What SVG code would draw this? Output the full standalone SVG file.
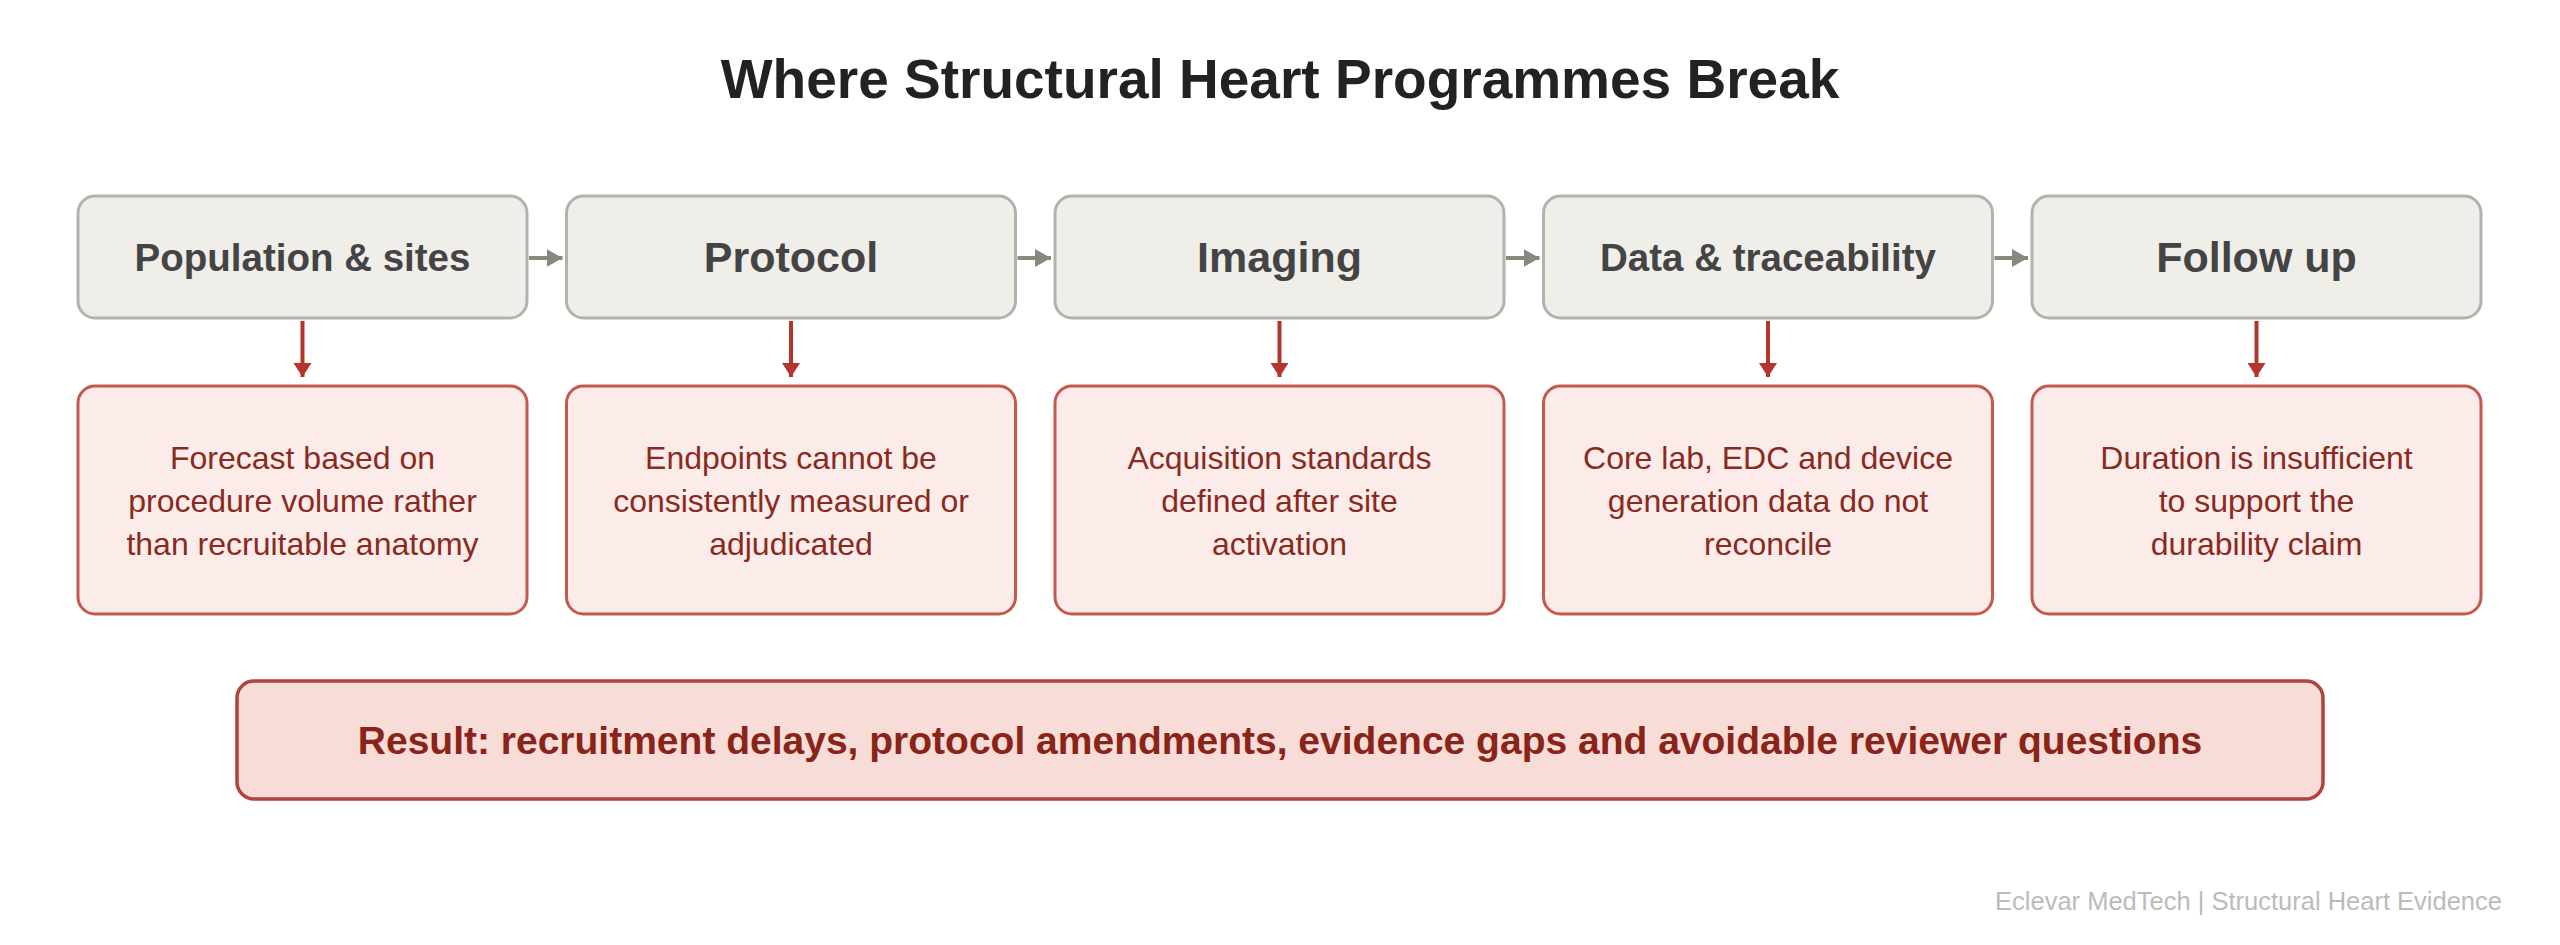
<svg xmlns="http://www.w3.org/2000/svg" width="2560" height="945" viewBox="0 0 2560 945">
  <style>
    .title { font-family: "Liberation Sans", Arial, sans-serif; font-weight: bold; font-size: 55px; fill: #222222; text-anchor: middle; }
    .stage rect { fill: #efeee9; stroke: #b3b3ab; stroke-width: 3; }
    .stage text { font-family: "Liberation Sans", Arial, sans-serif; font-weight: bold; fill: #444444; text-anchor: middle; }
    .issue rect { fill: #fbecea; stroke: #c45a4d; stroke-width: 3; }
    .issue text { font-family: "Liberation Sans", Arial, sans-serif; font-size: 32px; fill: #8a2a1f; text-anchor: middle; }
    .result rect { fill: #f7dcd7; stroke: #b5423a; stroke-width: 3.5; }
    .result text { font-family: "Liberation Sans", Arial, sans-serif; font-weight: bold; font-size: 39px; fill: #8a2318; text-anchor: middle; }
    .footer { font-family: "Liberation Sans", Arial, sans-serif; font-size: 25.5px; fill: #bbbbbb; text-anchor: end; }
    .flow { stroke: #88887f; stroke-width: 4; fill: none; }
    .down { stroke: #b5342b; stroke-width: 4; fill: none; }
  </style>
  <defs>
    <marker id="grayHead" markerUnits="userSpaceOnUse" markerWidth="18" markerHeight="20" refX="16" refY="10" orient="auto">
      <path d="M0,1 L16,10 L0,19 Z" fill="#88887f"/>
    </marker>
    <marker id="redHead" markerUnits="userSpaceOnUse" markerWidth="16" markerHeight="20" refX="14" refY="10" orient="auto">
      <path d="M0,1 L14,10 L0,19 Z" fill="#b5342b"/>
    </marker>
  </defs>
  <rect x="0" y="0" width="2560" height="945" fill="#ffffff"/>

  <text class="title" x="1280" y="98">Where Structural Heart Programmes Break</text>

  <g id="stage-population" class="stage">
    <rect x="78" y="196" width="449" height="122" rx="17"/>
    <text x="302.5" y="271" font-size="38.5">Population &amp; sites</text>
  </g>
  <g id="stage-protocol" class="stage">
    <rect x="566.5" y="196" width="449" height="122" rx="17"/>
    <text x="791" y="272" font-size="43">Protocol</text>
  </g>
  <g id="stage-imaging" class="stage">
    <rect x="1055" y="196" width="449" height="122" rx="17"/>
    <text x="1279.5" y="272" font-size="43">Imaging</text>
  </g>
  <g id="stage-data" class="stage">
    <rect x="1543.5" y="196" width="449" height="122" rx="17"/>
    <text x="1768" y="271" font-size="38.5">Data &amp; traceability</text>
  </g>
  <g id="stage-followup" class="stage">
    <rect x="2032" y="196" width="449" height="122" rx="17"/>
    <text x="2256.5" y="272" font-size="43">Follow up</text>
  </g>

  <g id="issue-population" class="issue">
    <rect x="78" y="386" width="449" height="228" rx="17"/>
    <text x="302.5" y="469">Forecast based on</text>
    <text x="302.5" y="512">procedure volume rather</text>
    <text x="302.5" y="555">than recruitable anatomy</text>
  </g>
  <g id="issue-protocol" class="issue">
    <rect x="566.5" y="386" width="449" height="228" rx="17"/>
    <text x="791" y="469">Endpoints cannot be</text>
    <text x="791" y="512">consistently measured or</text>
    <text x="791" y="555">adjudicated</text>
  </g>
  <g id="issue-imaging" class="issue">
    <rect x="1055" y="386" width="449" height="228" rx="17"/>
    <text x="1279.5" y="469">Acquisition standards</text>
    <text x="1279.5" y="512">defined after site</text>
    <text x="1279.5" y="555">activation</text>
  </g>
  <g id="issue-data" class="issue">
    <rect x="1543.5" y="386" width="449" height="228" rx="17"/>
    <text x="1768" y="469">Core lab, EDC and device</text>
    <text x="1768" y="512">generation data do not</text>
    <text x="1768" y="555">reconcile</text>
  </g>
  <g id="issue-followup" class="issue">
    <rect x="2032" y="386" width="449" height="228" rx="17"/>
    <text x="2256.5" y="469">Duration is insufficient</text>
    <text x="2256.5" y="512">to support the</text>
    <text x="2256.5" y="555">durability claim</text>
  </g>

  <g id="result" class="result">
    <rect x="237" y="681" width="2086" height="118" rx="17"/>
    <text x="1280" y="754">Result: recruitment delays, protocol amendments, evidence gaps and avoidable reviewer questions</text>
  </g>

  <g id="connectors">
    <line class="flow" x1="529" y1="258" x2="562.5" y2="258" marker-end="url(#grayHead)"/>
    <line class="flow" x1="1017.5" y1="258" x2="1051" y2="258" marker-end="url(#grayHead)"/>
    <line class="flow" x1="1506" y1="258" x2="1539.5" y2="258" marker-end="url(#grayHead)"/>
    <line class="flow" x1="1994.5" y1="258" x2="2028" y2="258" marker-end="url(#grayHead)"/>
    <line class="down" x1="302.5" y1="321" x2="302.5" y2="377" marker-end="url(#redHead)"/>
    <line class="down" x1="791" y1="321" x2="791" y2="377" marker-end="url(#redHead)"/>
    <line class="down" x1="1279.5" y1="321" x2="1279.5" y2="377" marker-end="url(#redHead)"/>
    <line class="down" x1="1768" y1="321" x2="1768" y2="377" marker-end="url(#redHead)"/>
    <line class="down" x1="2256.5" y1="321" x2="2256.5" y2="377" marker-end="url(#redHead)"/>
  </g>

  <text class="footer" x="2502" y="910">Eclevar MedTech | Structural Heart Evidence</text>
</svg>
